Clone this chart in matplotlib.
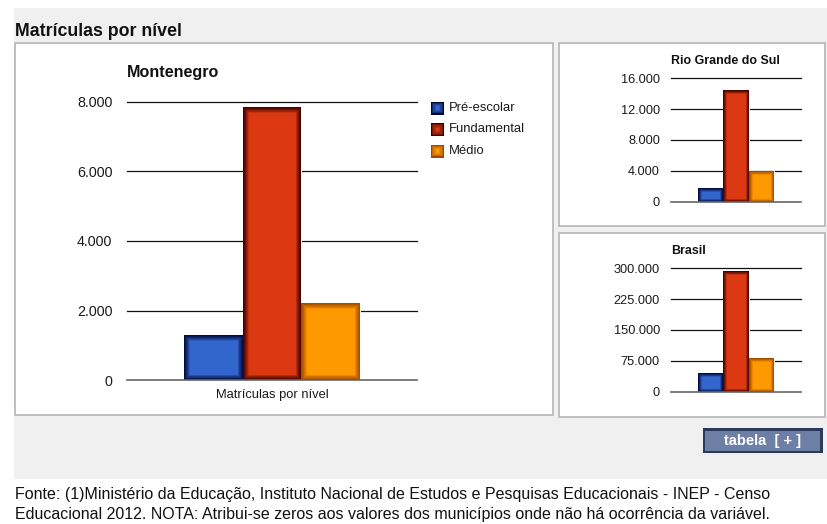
import matplotlib
matplotlib.use("Agg")
import matplotlib.pyplot as plt
from matplotlib.patches import Rectangle
from matplotlib.ticker import FuncFormatter

W, H = 828, 524

niveis = ["Pré-escolar", "Fundamental", "Médio"]
montenegro = [1295, 7865, 2207]
rio_grande_do_sul = [1737, 14483, 3980]
brasil = [44730, 294165, 81930]

fill_colors = ["#3366cc", "#dc3912", "#ff9900"]
edge_colors = ["#00083a", "#3a0000", "#a04800"]

plt.rcParams["font.family"] = ["Liberation Sans", "DejaVu Sans"]

fig = plt.figure(figsize=(W / 100, H / 100), dpi=100)
fig.patch.set_facecolor("white")


def fx(x):
    return x / W


def fy(y):
    return 1 - y / H


def box(x0, y0, x1, y1, zorder=-5, **kw):
    r = Rectangle((fx(x0), fy(y1)), fx(x1) - fx(x0), fy(y0) - fy(y1),
                  transform=fig.transFigure, zorder=zorder, **kw)
    fig.add_artist(r)
    return r


def milhar(v, pos):
    return f"{int(v):,}".replace(",", ".")


def mix(c1, c2, t):
    a = matplotlib.colors.to_rgb(c1)
    b = matplotlib.colors.to_rgb(c2)
    return tuple(a[i] + (b[i] - a[i]) * t for i in range(3))


def shaded_bars(ax, values, lw_max):
    bars = ax.bar([-1, 0, 1], values, width=1.0, color=fill_colors,
                  edgecolor="white", linewidth=0.7, zorder=3)
    # inner shading: strokes clipped to the bar, widest (palest) first,
    # narrowest (darkest) last so the rim ends up dark
    steps = 10
    for rect, fc, ec in zip(bars, fill_colors, edge_colors):
        for k in range(steps):
            t = k / steps
            r = Rectangle(rect.get_xy(), rect.get_width(), rect.get_height(),
                          fill=False, edgecolor=mix(ec, fc, (1 - t) ** 1.3),
                          linewidth=lw_max * (1 - t), zorder=4)
            ax.add_patch(r)
            r.set_clip_path(rect)
    return bars


def style_axes(ax, ticks, pad, size):
    ax.set_ylim(ticks[0], ticks[-1])
    ax.set_yticks(ticks)
    ax.yaxis.set_major_formatter(FuncFormatter(milhar))
    ax.tick_params(axis="y", length=0, pad=pad, labelsize=size, colors="#1a1a1a")
    ax.set_xticks([])
    for s in ax.spines.values():
        s.set_visible(False)
    for t in ticks[1:]:
        ax.axhline(t, color="#111111", linewidth=0.9, zorder=1, clip_on=False)
    ax.axhline(0, color="#666666", linewidth=1.2, zorder=5, clip_on=False)
    ax.set_facecolor("none")


# page background and panels
box(14, 8, 828, 479, facecolor="#f0f0f0", edgecolor="none", zorder=-10)
box(15, 43, 553, 415, facecolor="white", edgecolor="#b4b4b4", linewidth=1.2)
box(559, 43, 825, 226, facecolor="white", edgecolor="#b4b4b4", linewidth=1.2)
box(559, 233, 825, 417, facecolor="white", edgecolor="#b4b4b4", linewidth=1.2)

fig.text(fx(15), fy(32), "Matrículas por nível", fontsize=12.8, fontweight="bold",
         ha="left", va="center", color="#111111")

# main chart
ax = fig.add_axes([fx(127), fy(380), fx(417) - fx(127), fy(102) - fy(380)])
shaded_bars(ax, montenegro, 9)
ax.set_xlim(-2.458, 2.458)
style_axes(ax, [0, 2000, 4000, 6000, 8000], 10.5, 10.3)
fig.text(fx(127), fy(73), "Montenegro", fontsize=11.6, fontweight="bold",
         ha="left", va="center", color="#111111")
fig.text(fx(272), fy(395), "Matrículas por nível", fontsize=9.3,
         ha="center", va="center", color="#1a1a1a")

# legend
for i, (nome, fc, ec) in enumerate(zip(niveis, fill_colors, edge_colors)):
    y = 108 + i * 21.5
    for k in range(5):
        d = k * 1.2
        box(431 + d, y - 6.5 + d, 444 - d, y + 6.5 - d, zorder=2,
            facecolor=mix(ec, fc, (k / 4) ** 0.7), edgecolor="none")
    fig.text(fx(449), fy(y), nome, fontsize=9.4, ha="left", va="center",
             color="#1a1a1a")

# side charts
ax_rs = fig.add_axes([fx(671), fy(201.7), fx(801) - fx(671), fy(78.3) - fy(201.7)])
shaded_bars(ax_rs, rio_grande_do_sul, 5.5)
ax_rs.set_xlim(-2.55, 2.55)
style_axes(ax_rs, [0, 4000, 8000, 12000, 16000], 8, 9.2)
fig.text(fx(671), fy(61), "Rio Grande do Sul", fontsize=8.9, fontweight="bold",
         ha="left", va="center", color="#111111")

ax_br = fig.add_axes([fx(671), fy(391.7), fx(801) - fx(671), fy(268.3) - fy(391.7)])
shaded_bars(ax_br, brasil, 5.5)
ax_br.set_xlim(-2.55, 2.55)
style_axes(ax_br, [0, 75000, 150000, 225000, 300000], 8, 9.2)
fig.text(fx(671), fy(251), "Brasil", fontsize=8.9, fontweight="bold",
         ha="left", va="center", color="#111111")

# table button
box(703, 428, 823, 453, zorder=2, facecolor="#2b3a5c", edgecolor="none")
box(705.5, 430.5, 820.5, 450.5, zorder=2, facecolor="#6e7fa6", edgecolor="none")
fig.text(fx(763), fy(440.5), "tabela  [ + ]", fontsize=10.5, fontweight="bold",
         ha="center", va="center", color="white")

# source note
fig.text(fx(15), fy(495),
         "Fonte: (1)Ministério da Educação, Instituto Nacional de Estudos e Pesquisas "
         "Educacionais - INEP - Censo", fontsize=11.5, ha="left", va="center",
         color="#111111")
fig.text(fx(15), fy(514),
         "Educacional 2012. NOTA: Atribui-se zeros aos valores dos municípios onde "
         "não há ocorrência da variável.", fontsize=11.5, ha="left", va="center",
         color="#111111")

fig.savefig("out.png", dpi=100)
